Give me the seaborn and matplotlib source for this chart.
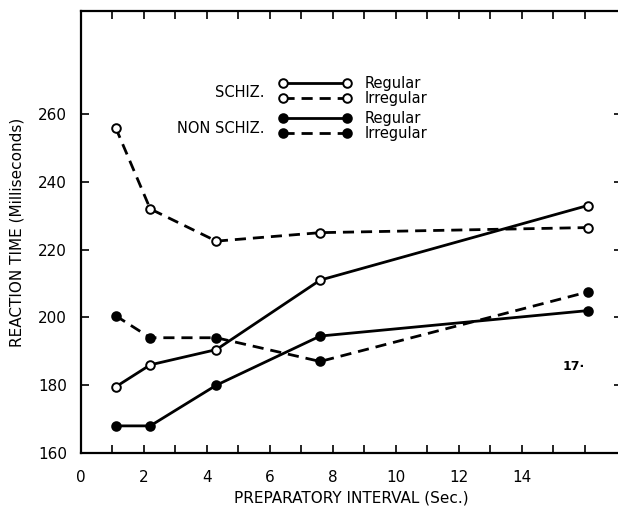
import matplotlib
matplotlib.use("Agg")
import matplotlib.pyplot as plt
import pandas as pd
import seaborn as sns
from matplotlib.lines import Line2D
from matplotlib.legend_handler import HandlerLine2D

# Preparatory interval (sec) at which reaction time was measured
interval = [1.1, 2.2, 4.3, 7.6, 16.1]

# Mean reaction time (ms)
schiz_regular = [179.5, 186, 190.5, 211, 233]
schiz_irregular = [256, 232, 222.5, 225, 226.5]
nonschiz_regular = [168, 168, 180, 194.5, 202]
nonschiz_irregular = [200.5, 194, 194, 187, 207.5]

groups = ["SCHIZ.", "NON SCHIZ."]
schedules = ["Regular", "Irregular"]
y_ticks = [160, 180, 200, 220, 240, 260]

rows = []
for grp, sched, vals in [
    ("SCHIZ.", "Regular", schiz_regular),
    ("SCHIZ.", "Irregular", schiz_irregular),
    ("NON SCHIZ.", "Regular", nonschiz_regular),
    ("NON SCHIZ.", "Irregular", nonschiz_irregular),
]:
    for x, y in zip(interval, vals):
        rows.append({"group": grp, "schedule": sched, "interval": x, "rt": y})
df = pd.DataFrame(rows)

sns.set_style("ticks")
plt.rcParams["font.family"] = ["DejaVu Sans"]
plt.rcParams.update({"text.color": "black", "axes.labelcolor": "black",
                     "xtick.color": "black", "ytick.color": "black"})

W, H = 618, 511
fig = plt.figure(figsize=(W / 100, H / 100), dpi=100)
# axes run slightly past the right edge so only the inner right ticks show
ax = fig.add_axes([81 / W, 58 / H, 541 / W, 442 / H])

LW = 2.0
MS = 6.2
DASH = (0, (4, 2.5))
styles = {
    ("SCHIZ.", "Regular"): dict(linestyle="-", mfc="white"),
    ("SCHIZ.", "Irregular"): dict(linestyle=DASH, mfc="white"),
    ("NON SCHIZ.", "Regular"): dict(linestyle="-", mfc="black"),
    ("NON SCHIZ.", "Irregular"): dict(linestyle=DASH, mfc="black"),
}

for (grp, sched), sub in df.groupby(["group", "schedule"], sort=False):
    st = styles[(grp, sched)]
    sns.lineplot(data=sub, x="interval", y="rt", ax=ax, color="black",
                 lw=LW, marker="o", ms=MS, mec="black", mew=1.4,
                 mfc=st["mfc"], linestyle=st["linestyle"], legend=False)

ax.set_xlim(0, 541 / 31.47)
ax.set_ylim(160, 160 + 442 / 3.39)

xt = list(range(0, 17))
ax.set_xticks(xt)
ax.set_xticklabels([str(v) if (v % 2 == 0 and v <= 14) else "" for v in xt],
                   fontsize=11)
ax.set_yticks(y_ticks)
ax.set_yticklabels([str(v) for v in y_ticks], fontsize=11)

ax.tick_params(axis="x", direction="in", length=6, width=1.2, top=True,
               bottom=True, pad=12)
ax.tick_params(axis="y", direction="in", length=6, width=1.2, left=True,
               right=True, pad=10)

for name, s in ax.spines.items():
    s.set_linewidth(1.6)
    s.set_color("black")
    s.set_visible(name != "right")

ax.set_xlabel("PREPARATORY INTERVAL (Sec.)", fontsize=11, labelpad=4)
ax.set_ylabel("REACTION TIME (Milliseconds)", fontsize=11, labelpad=10)


def handle(ls, mfc):
    return Line2D([], [], color="black", lw=LW, linestyle=ls, marker="o",
                  ms=MS, mfc=mfc, mec="black", mew=1.4)


hmap = {Line2D: HandlerLine2D(marker_pad=0, numpoints=2)}
leg_kw = dict(frameon=False, loc="center left", borderpad=0,
              borderaxespad=0, handlelength=4.4, handletextpad=1.2,
              labelspacing=0.0, fontsize=10.5, handler_map=hmap)

leg1 = ax.legend([handle("-", "white"), handle(DASH, "white")], schedules,
                 bbox_to_anchor=(0.373, 0.819), **leg_kw)
ax.add_artist(leg1)
leg2 = ax.legend([handle("-", "black"), handle(DASH, "black")], schedules,
                 bbox_to_anchor=(0.373, 0.739), **leg_kw)

ax.text(0.340, 0.815, groups[0], transform=ax.transAxes, ha="right",
        va="center", fontsize=10.5)
ax.text(0.340, 0.735, groups[1], transform=ax.transAxes, ha="right",
        va="center", fontsize=10.5)

ax.text(0.891, 0.195, "17·", transform=ax.transAxes, ha="left",
        va="center", fontsize=9, fontweight="bold")

fig.savefig("out.png", dpi=100)
